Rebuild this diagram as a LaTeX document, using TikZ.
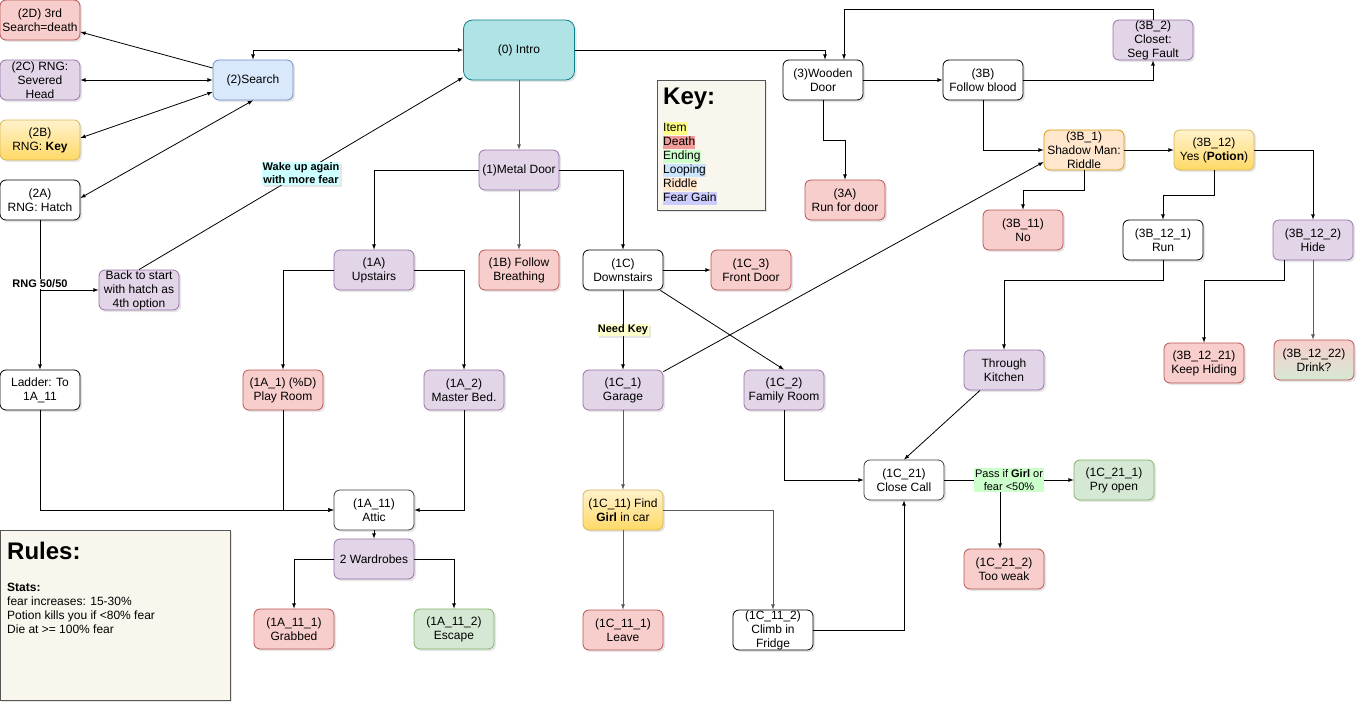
\documentclass[tikz,border=0pt]{standalone}
\usepackage{fontspec}
\setmainfont{Liberation Sans}
\usetikzlibrary{shadows}
\definecolor{deathfill}{HTML}{F8CECC}\definecolor{deathline}{HTML}{B85450}
\definecolor{fearfill}{HTML}{E1D5E7}\definecolor{fearline}{HTML}{9673A6}
\definecolor{loopfill}{HTML}{DAE8FC}\definecolor{loopline}{HTML}{6C8EBF}
\definecolor{itemtop}{HTML}{FFF2CC}\definecolor{itembot}{HTML}{FFD966}\definecolor{itemline}{HTML}{D6B656}
\definecolor{endfill}{HTML}{D5E8D4}\definecolor{endline}{HTML}{82B366}
\definecolor{riddlefill}{HTML}{FFE6CC}\definecolor{riddleline}{HTML}{D79B00}
\definecolor{introfill}{HTML}{B0E3E6}\definecolor{introline}{HTML}{0E8088}
\definecolor{notefill}{HTML}{F9F7ED}\definecolor{noteline}{HTML}{555555}
\definecolor{wakefill}{HTML}{CCFFFF}\definecolor{needfill}{HTML}{FFFFCC}\definecolor{passfill}{HTML}{CCFFCC}
\definecolor{itemhl}{HTML}{FFFF88}\definecolor{deathhl}{HTML}{F19C99}\definecolor{endhl}{HTML}{CCFFCC}
\definecolor{loophl}{HTML}{CCE5FF}\definecolor{riddlehl}{HTML}{FFE6CC}\definecolor{fearhl}{HTML}{CCCCFF}
\newcommand{\hilite}[2]{{\setlength{\fboxsep}{0pt}\colorbox{#1}{\rule[-3.5pt]{0pt}{13pt}#2}}}
\tikzstyle{shade}     = [drop shadow={opacity=0.2,shadow xshift=2pt,shadow yshift=-2pt}]
\tikzstyle{box}       = [draw, shade, rounded corners=6pt, minimum width=80pt, minimum height=40pt, inner sep=1pt, align=center, line width=0.8pt]
\tikzstyle{tall}      = [inner ysep=-1pt]
\tikzstyle{plainbox}  = [box, fill=white]
\tikzstyle{deathbox}  = [box, fill=deathfill, draw=deathline]
\tikzstyle{fearbox}   = [box, fill=fearfill, draw=fearline]
\tikzstyle{loopbox}   = [box, fill=loopfill, draw=loopline]
\tikzstyle{itembox}   = [box, top color=itemtop, bottom color=itembot, draw=itemline]
\tikzstyle{endbox}    = [box, fill=endfill, draw=endline]
\tikzstyle{riddlebox} = [box, fill=riddlefill, draw=riddleline]
\tikzstyle{note}      = [draw=noteline, fill=notefill, shade, line width=0.8pt]
\tikzstyle{arr}       = [-latex, line width=0.8pt]
\tikzstyle{dbl}       = [latex-latex, line width=0.8pt]
\tikzstyle{grayarr}   = [arr, black!65]
\tikzstyle{edgetag}   = [font=\bfseries\fontsize{11}{13}\selectfont, inner sep=1pt, align=center]

\begin{document}
\begin{tikzpicture}[x=1pt, y=-1pt, font=\fontsize{12}{14}\selectfont]
    \useasboundingbox (0,0) rectangle (1366,715);
    % search branch
    \node[deathbox] (s2D) at (40,20) {(2D) 3rd\\Search=death};
    \node[fearbox,tall] (s2C) at (40,80) {(2C) RNG:\\Severed\\Head};
    \node[itembox] (s2B) at (40,140) {(2B)\\RNG: \textbf{Key}};
    \node[plainbox] (s2A) at (40,200) {(2A)\\RNG: Hatch};
    \node[loopbox] (s2) at (253,80) {(2)Search};
    \node[fearbox,tall] (back) at (139,290) {Back to start\\with hatch as\\4th option};
    \node[plainbox] (ladder) at (40,390) {Ladder: To\\1A\_11};
    % intro and metal door
    \node[box, fill=introfill, draw=introline, minimum width=111pt, minimum height=60pt, rounded corners=9pt] (s0) at (519,50) {(0) Intro};
    \node[fearbox] (s1) at (519,170) {(1)Metal Door};
    \node[fearbox] (s1A) at (374,270) {(1A)\\Upstairs};
    \node[deathbox] (s1B) at (519,270) {(1B) Follow\\Breathing};
    \node[plainbox] (s1C) at (623,270) {(1C)\\Downstairs};
    \node[deathbox] (s1C3) at (751,270) {(1C\_3)\\Front Door};
    \node[deathbox] (s1A1) at (283,390) {(1A\_1) (\%D)\\Play Room};
    \node[fearbox] (s1A2) at (464,390) {(1A\_2)\\Master Bed.};
    \node[plainbox, draw=black!75] (s1A11) at (374,510) {(1A\_11)\\Attic};
    \node[fearbox] (ward) at (374,559) {2 Wardrobes};
    \node[deathbox] (s1A111) at (294,629) {(1A\_11\_1)\\Grabbed};
    \node[endbox] (s1A112) at (454,629) {(1A\_11\_2)\\Escape};
    \node[fearbox] (s1C1) at (623,390) {(1C\_1)\\Garage};
    \node[fearbox] (s1C2) at (784,390) {(1C\_2)\\Family Room};
    \node[itembox] (s1C11) at (623,510) {(1C\_11) Find\\\textbf{Girl} in car};
    \node[deathbox] (s1C111) at (623,630) {(1C\_11\_1)\\Leave};
    \node[plainbox,tall] (s1C112) at (773,630) {(1C\_11\_2)\\Climb in\\Fridge};
    \node[plainbox, draw=black!75] (s1C21) at (904,480) {(1C\_21)\\Close Call};
    \node[endbox] (s1C211) at (1114,480) {(1C\_21\_1)\\Pry open};
    \node[deathbox] (s1C212) at (1004,569) {(1C\_21\_2)\\Too weak};
    \node[fearbox] (kitchen) at (1004,370) {Through\\Kitchen};
    % wooden door branch
    \node[plainbox] (s3) at (823,80) {(3)Wooden\\Door};
    \node[deathbox] (s3A) at (845,200) {(3A)\\Run for door};
    \node[plainbox] (s3B) at (983,80) {(3B)\\Follow blood};
    \node[fearbox,tall] (s3B2) at (1153,40) {(3B\_2)\\Closet:\\Seg Fault};
    \node[riddlebox,tall] (s3B1) at (1084,150) {(3B\_1)\\Shadow Man:\\Riddle};
    \node[itembox] (s3B12) at (1214,150) {(3B\_12)\\Yes (\textbf{Potion})};
    \node[deathbox] (s3B11) at (1023,230) {(3B\_11)\\No};
    \node[plainbox] (s3B121) at (1163,240) {(3B\_12\_1)\\Run};
    \node[fearbox] (s3B122) at (1313,240) {(3B\_12\_2)\\Hide};
    \node[deathbox] (s3B1221) at (1204,363) {(3B\_12\_21)\\Keep Hiding};
    \node[box, top color=deathfill, bottom color=endfill, draw=deathline] (s3B1222) at (1314,360) {(3B\_12\_22)\\Drink?};
    % key and rules
    \node[note, minimum width=108pt, minimum height=130pt] (keybox) at (711,145) {};
    \node[anchor=base west, inner sep=0, font=\bfseries\fontsize{24}{28}\selectfont] (keytitle) at (663,104) {Key:};
    \node[anchor=north west, inner sep=0, align=left] (keylist) at (663,122) {\hilite{itemhl}{Item}\\\hilite{deathhl}{Death}\\\hilite{endhl}{Ending}\\\hilite{loophl}{Looping}\\\hilite{riddlehl}{Riddle}\\\hilite{fearhl}{Fear Gain}};
    \node[note, minimum width=230pt, minimum height=170pt] (rulebox) at (115,615) {};
    \node[anchor=base west, inner sep=0, font=\bfseries\fontsize{24}{28}\selectfont] (ruletitle) at (7,559) {Rules:};
    \node[anchor=north west, inner sep=0, align=left] (rulelist) at (7,583) {\textbf{Stats:}\\fear increases: 15-30\%\\Potion kills you if <80\% fear\\Die at >= 100\% fear};

    % connectors
    \foreach \a/\b in {s2A/ladder, s1A11/ward, s3/s3B, s3B1/s3B12, s1C/s1C3} {
      \draw[arr] (\a) -- (\b);
    }
    \foreach \a/\b in {s0/s1, s1/s1B, s1C1/s1C11, s1C11/s1C111} {
      \draw[grayarr] (\a) -- (\b);
    }
    \draw[dbl] (s2.north) |- (s0.west);
    \draw[arr] (back.north) -- node[edgetag, fill=wakefill, shade] {Wake up again\\with more fear} ([yshift=3pt]s0.south west);
    \draw[arr] ([yshift=12pt]s2.west) -- ([yshift=-12pt]s2D.east);
    \draw[dbl] (s2C) -- (s2);
    \draw[dbl] ([yshift=2pt]s2B.east) -- ([yshift=-12pt]s2.west);
    \draw[dbl] ([yshift=2pt]s2A.east) -- (s2.south);
    \draw[arr] (s2A.south) |- node[edgetag, fill=white, yshift=6pt] {RNG 50/50} (back.west);
    \draw[arr] (ladder.south) |- (s1A11.west);
    \draw[arr] (s1A1.south) |- (s1A11.west);
    \draw[arr] (s1A2.south) |- (s1A11.east);
    \draw[arr] (ward.west) -| (s1A111.north);
    \draw[arr] (ward.east) -| (s1A112.north);
    \draw[arr] (s1.west) -| (s1A.north);
    \draw[arr] (s1.east) -| (s1C.north);
    \draw[arr] (s1A.west) -| (s1A1.north);
    \draw[arr] (s1A.east) -| (s1A2.north);
    \draw[arr] (s1C) -- node[edgetag, fill=needfill, shade] {Need Key} (s1C1);
    \draw[arr] ([xshift=-3pt]s1C.south east) -- (s1C2.north);
    \draw[arr] (s1C2.south) |- (s1C21.west);
    \draw[grayarr] (s1C11.east) -| (s1C112.north);
    \draw[arr] (s1C112.east) -| (s1C21.south);
    \draw[arr] (s1C21.east) -| ([xshift=-4pt]s1C212.north);
    \draw[arr] (s1C21) -- node[edgetag, font=\fontsize{11}{13}\selectfont, fill=passfill] {Pass if \textbf{Girl} or\\fear <50\%} (s1C211);
    \draw[arr] ([xshift=-24pt]kitchen.south) -- (s1C21.north);
    \draw[arr] (s0.east) -| ([xshift=2pt]s3.north);
    \draw[arr] (s3B2.north) -- ++(0,-10) -| ([xshift=21pt]s3.north);
    \draw[arr] (s3.south) -- ++(0,40) -| (s3A.north);
    \draw[arr] (s3B.east) -| (s3B2.south);
    \draw[arr] (s3B.south) |- (s3B1.west);
    \draw[arr] ([yshift=-2pt]s1C1.north east) -- ([yshift=-12pt]s3B1.west);
    \draw[arr] (s3B1.south) -- ++(0,20) -| (s3B11.north);
    \draw[arr] (s3B12.south) -- ++(0,25) -| (s3B121.north);
    \draw[arr] (s3B12.east) -| (s3B122.north);
    \draw[arr] (s3B121.south) -- ++(0,20) -| (kitchen.north);
    \draw[arr] ([xshift=-29pt]s3B122.south) -- ++(0,20) -| (s3B1221.north);
    \draw[grayarr] (s3B122.south) -- (s3B122.south |- s3B1222.north);
\end{tikzpicture}
\end{document}
